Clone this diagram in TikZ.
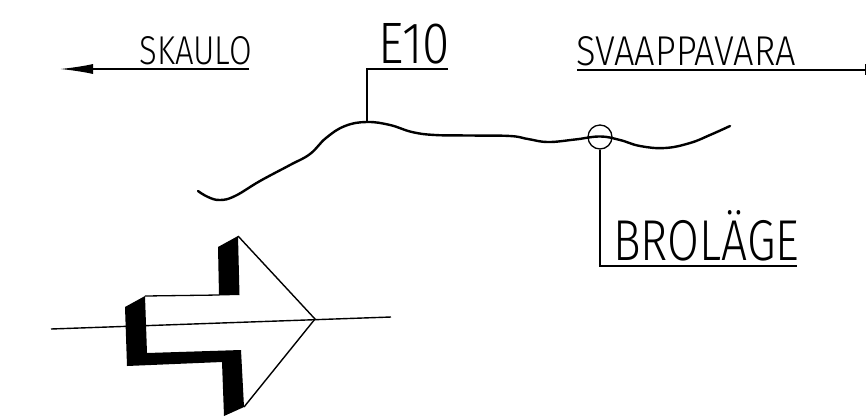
\documentclass[tikz,border=0pt]{standalone}
\usepackage{graphicx}
\usepackage{fontspec}
\newfontfamily\dinfont{Fira Sans Light}
\usetikzlibrary{arrows.meta}
\tikzset{
  lbl/.style={inner sep=0pt,anchor=south west,font=\dinfont},
  thinln/.style={line width=1.4pt,black},
  thickln/.style={line width=2.4pt,black,line cap=round,line join=round},
  mark circle/.style={circle,draw,line width=1.3pt,minimum size=24pt,inner sep=0pt}
}
\begin{document}
\begin{tikzpicture}[x=1pt,y=-1pt]
\useasboundingbox (0,0) rectangle (866,416);
% labels
\node[lbl] (sk) at (139.5,65) {\resizebox{112pt}{28pt}{SKAULO}};
\node[lbl] (e10) at (378,64) {\resizebox{72pt}{40pt}{E10}};
\node[lbl] (sv) at (576,66) {\resizebox{220pt}{29pt}{SVAAPPAVARA}};
\node[lbl] (br) at (613,261) {\resizebox{186pt}{50pt}{BROLÄGE}};
% leaders
\coordinate (skE) at (249,69);
\coordinate (skTip) at (60,69);
\coordinate (eL) at (367,69);
\coordinate (eR) at (448,69);
\coordinate (eD) at (367,122);
\coordinate (svL) at (577,70);
\coordinate (svR) at (865,70);
\coordinate (brR) at (797,266);
\coordinate (brC) at (600,266);
\draw[thinln,-{Latex[length=33pt,width=10pt]}] (skE) -- (skTip);
\draw[thinln] (eR) -- (eL) -- (eD);
\draw[thinln] (svL) -- (svR);
\draw[line width=1.2pt] (865.4,64) -- (865.4,75);
% road
\draw[thickln] plot[smooth,tension=0.7] coordinates {(198,191) (208,197) (220,200) (235,196) (260,181) (290,165) (310,154) (326,138) (345,126) (367,122) (390,125) (412,132) (435,135) (470,135.5) (510,136) (528,139) (548,142) (575,139.5) (600,136.5) (620,140) (640,146) (665,148) (690,143) (710,135) (730,126)};
\node[mark circle] (cir) at (600,137) {};
\draw[thinln] (cir.south) -- (brC) -- (brR);
% section symbol
\coordinate (tip) at (315,319);
\coordinate (lineL) at (51,329);
\coordinate (lineR) at (391,317);
\coordinate (headT) at (238,236);
\coordinate (headB) at (244,407);
\coordinate (bodyL) at (145,296);
\coordinate (bodyR) at (219,295);
\draw[line width=1.4pt] (lineL) -- (lineR);
\draw[line width=1.4pt] (headT) -- (tip) -- (headB);
\draw[line width=1.3pt] (bodyL) -- (bodyR);
\fill (218,247) -- (headT) -- (239.5,295) -- (219,295.5) -- cycle;
\fill (125,307) -- (bodyL) -- (147,353) -- (241,350) -- (headB) -- (224,416) -- (222,362) -- (127,366) -- cycle;
\end{tikzpicture}
\end{document}
